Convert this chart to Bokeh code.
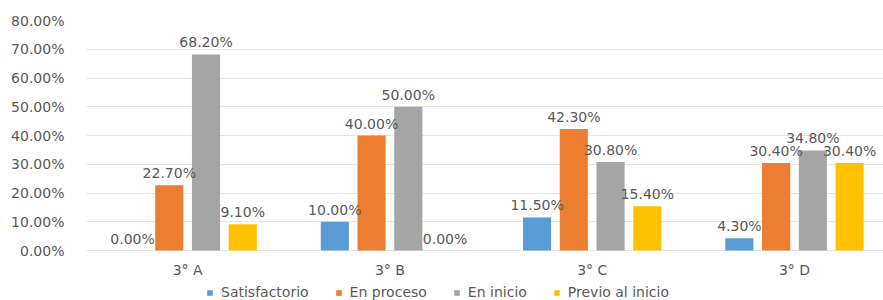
from bokeh.plotting import figure
from bokeh.models import (ColumnDataSource, Range1d, Legend, LegendItem,
                          PrintfTickFormatter, LabelSet, FixedTicker)
from bokeh.core.properties import value
from bokeh.embed import file_html
from bokeh.resources import INLINE

categories = ["3° A", "3° B", "3° C", "3° D"]
series = ["Satisfactorio", "En proceso", "En inicio", "Previo al inicio"]
satisfactorio = [0.0, 10.0, 11.5, 4.3]
en_proceso = [22.7, 40.0, 42.3, 30.4]
en_inicio = [68.2, 50.0, 30.8, 34.8]
previo = [9.1, 0.0, 15.4, 30.4]
colors = ["#5B9BD5", "#ED7D31", "#A5A5A5", "#FFC000"]

FONT = "DejaVu Sans"
TXT = "#595959"
FS = "14px"

centers = [i + 0.5 for i in range(len(categories))]
offsets = [-0.2725, -0.0908, 0.0908, 0.2725]
keys = ["s0", "s1", "s2", "s3"]
data = dict(xc=centers, cat=categories, zero=[0.0] * len(categories),
            s0=satisfactorio, s1=en_proceso, s2=en_inicio, s3=previo)
for i, k in enumerate(keys):
    data[k + "_lbl"] = ["%.2f%%" % v for v in data[k]]
    data[k + "_x"] = [c + offsets[i] for c in centers]
src = ColumnDataSource(data)

# plot area: 0% .. 80% over 230px, with 50px of space below for categories and legend
p = figure(x_range=Range1d(0, 3.94), y_range=Range1d(-80 * 50 / 230, 80),
           width=883, height=300, output_backend="svg", toolbar_location=None,
           min_border_left=86, min_border_right=0, min_border_top=20, min_border_bottom=0)
p.outline_line_color = None
p.background_fill_color = "white"
p.border_fill_color = "white"

items = []
for i, k in enumerate(keys):
    r = p.vbar(x=k + "_x", top=k, width=0.139, source=src,
               fill_color=colors[i], line_color=None)
    items.append(LegendItem(label=series[i], renderers=[r]))
    lbl = LabelSet(x=k + "_x", y=k, text=k + "_lbl", source=src,
                   text_align="center", text_baseline="bottom", y_offset=4,
                   text_font=value(FONT), text_font_size=FS, text_color=TXT)
    p.add_layout(lbl)

cat_lbl = LabelSet(x="xc", y="zero", text="cat", source=src,
                   text_align="center", text_baseline="top", y_offset=-11,
                   text_font=value(FONT), text_font_size=FS, text_color=TXT)
p.add_layout(cat_lbl)

p.yaxis.ticker = FixedTicker(ticks=list(range(0, 81, 10)))
p.yaxis.formatter = PrintfTickFormatter(format="%.2f%%")
p.yaxis.axis_line_color = None
p.yaxis.major_tick_line_color = None
p.yaxis.minor_tick_line_color = None
p.yaxis.major_tick_out = 0
p.yaxis.major_tick_in = 0
p.yaxis.minor_tick_out = 0
p.yaxis.major_label_text_font = FONT
p.yaxis.major_label_text_font_size = FS
p.yaxis.major_label_text_color = TXT
p.yaxis.major_label_standoff = 22

p.xaxis.visible = False
p.xgrid.grid_line_color = None
p.ygrid.grid_line_color = "#E4E4E4"

legend = Legend(items=items, orientation="horizontal", location=(120, 0),
                label_text_font=FONT, label_text_font_size=FS, label_text_color=TXT,
                glyph_width=7, glyph_height=7, spacing=26, label_standoff=8,
                border_line_color=None, background_fill_alpha=0, padding=0, margin=0)
p.add_layout(legend, "center")

open("out.html", "w").write(file_html(p, INLINE))
